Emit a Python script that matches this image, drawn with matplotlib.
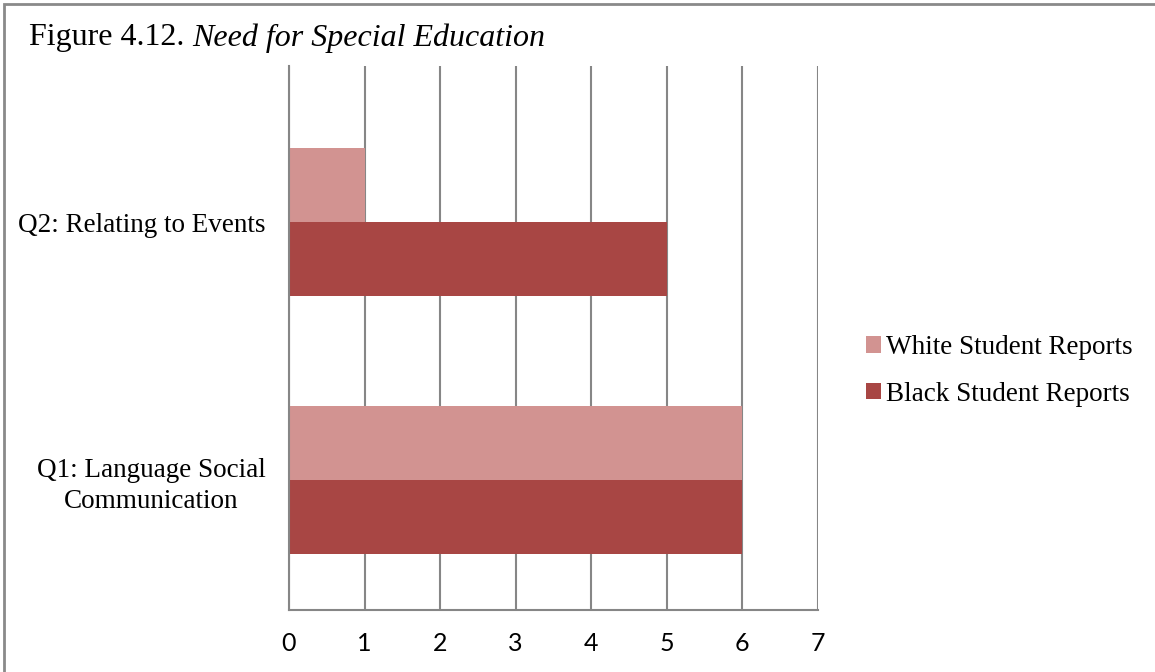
import matplotlib
matplotlib.use("Agg")
import matplotlib.pyplot as plt
from matplotlib.patches import Rectangle, Patch

# survey counts per question
questions = ["Q1: Language Social\nCommunication", "Q2: Relating to Events"]
white_reports = [6, 1]
black_reports = [6, 5]
series_names = ["White Student Reports", "Black Student Reports"]
x_ticks = [0, 1, 2, 3, 4, 5, 6, 7]

WHITE_COLOR = "#D29391"
BLACK_COLOR = "#A84644"
GRID_COLOR = "#868686"
SERIF = "Liberation Serif"

W, H = 1155, 672
fig = plt.figure(figsize=(W / 100, H / 100), dpi=100)

# axes placed in pixel terms
left, right, top, bottom = 289, 818, 66, 610
ax = fig.add_axes([left / W, 1 - bottom / H, (right - left) / W, (bottom - top) / H])

bar_h = 0.287
pos = list(range(len(questions)))
ax.barh([p + bar_h / 2 for p in pos], white_reports, height=bar_h,
        color=WHITE_COLOR, zorder=3)
ax.barh([p - bar_h / 2 for p in pos], black_reports, height=bar_h,
        color=BLACK_COLOR, zorder=3)

ax.set_xlim(0, 7)
ax.set_ylim(-0.504, 1.605)
ax.set_xticks(x_ticks)
ax.set_xticklabels([str(t) for t in x_ticks], fontfamily="Lato", fontsize=18)
ax.set_yticks(pos)
ax.set_yticklabels(questions, fontfamily=SERIF, fontsize=19.5)
for lbl in ax.get_yticklabels():
    lbl.set_multialignment("center")
    lbl.set_linespacing(1.3)

ax.tick_params(axis="both", length=0)
ax.tick_params(axis="y", pad=17)
ax.tick_params(axis="x", pad=16)

ax.grid(axis="x", color=GRID_COLOR, linewidth=1.5, zorder=1)
for side in ["top", "right"]:
    ax.spines[side].set_visible(False)
for side in ["left", "bottom"]:
    ax.spines[side].set_color(GRID_COLOR)
    ax.spines[side].set_linewidth(1.5)
    ax.spines[side].set_zorder(4)

handles = [Patch(facecolor=WHITE_COLOR, edgecolor="none"),
           Patch(facecolor=BLACK_COLOR, edgecolor="none")]
fig.legend(handles, series_names, loc="center left",
           bbox_to_anchor=(866 / W, 1 - 371 / H), frameon=False,
           prop={"family": SERIF, "size": 19.5},
           handlelength=0.55, handleheight=0.55, handletextpad=0.2,
           labelspacing=0.8, borderpad=0, borderaxespad=0)

# figure caption: plain number, italic title
cap = fig.text(29 / W, 1 - 38 / H, "Figure 4.12. ", fontfamily=SERIF,
               fontsize=23, va="center", ha="left")
fig.canvas.draw()
ext = cap.get_window_extent()
fig.text(ext.x1 / W, 1 - 38 / H, "Need for Special Education", fontfamily=SERIF,
         fontsize=23, style="italic", va="center", ha="left")

# outer frame, open at right and bottom edges
fig.add_artist(Rectangle((4 / W, -0.1), 1.2, 1 - 3.5 / H + 0.1,
                         transform=fig.transFigure, fill=False,
                         edgecolor="#8A8A8A", linewidth=2))

fig.savefig("out.png", dpi=100)
